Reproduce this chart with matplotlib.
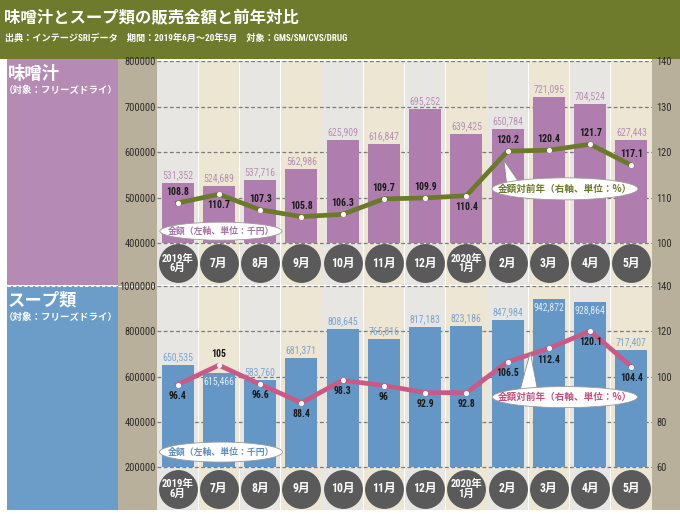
import matplotlib
matplotlib.use("Agg")
import matplotlib.pyplot as plt
from matplotlib import font_manager
from matplotlib.patches import Rectangle, Ellipse, Polygon
from matplotlib.lines import Line2D

# ---------------- data ----------------
months = ["2019年\n6月", "7月", "8月", "9月", "10月", "11月", "12月",
          "2020年\n1月", "2月", "3月", "4月", "5月"]
miso_sales = [531352, 524689, 537716, 562986, 625909, 616847, 695252,
              639425, 650784, 721095, 704524, 627443]
miso_yoy = [108.8, 110.7, 107.3, 105.8, 106.3, 109.7, 109.9, 110.4,
            120.2, 120.4, 121.7, 117.1]
soup_sales = [650535, 615466, 583760, 681371, 808645, 765816, 817183,
              823186, 847984, 942872, 928864, 717407]
soup_yoy = [96.4, 105, 96.6, 88.4, 98.3, 96, 92.9, 92.8, 106.5, 112.4,
            120.1, 104.4]
miso_left_ticks = [400000, 500000, 600000, 700000, 800000]
miso_right_ticks = [100, 110, 120, 130, 140]
soup_left_ticks = [200000, 400000, 600000, 800000, 1000000]
soup_right_ticks = [60, 80, 100, 120, 140]

# label placement (style)
miso_line_side = [1, -1, 1, 1, 1, 1, 1, -1, 1, 1, 1, 1]
soup_line_side = [-1, 1, -1, -1, -1, -1, -1, -1, -1, -1, -1, -1]
miso_bar_inside = [False] * 12
soup_bar_inside = [False, True, False, False, False, False, False,
                   False, False, True, True, False]

title = "味噌汁とスープ類の販売金額と前年対比"
subtitle = "出典：インテージSRIデータ　期間：2019年6月～20年5月　対象：GMS/SM/CVS/DRUG"

# ---------------- fonts ----------------
avail = {f.name for f in font_manager.fontManager.ttflist}
narrow = next((f for f in ["Liberation Sans Narrow", "Roboto Condensed",
                           "DejaVu Sans Condensed", "Liberation Sans"]
               if f in avail), "DejaVu Sans")
CJK = "Noto Sans CJK JP"
FAM = [narrow, CJK, "DejaVu Sans"]
plt.rcParams['font.family'] = FAM

W, H = 680, 514
fig = plt.figure(figsize=(W / 100, H / 100), dpi=100)
fig.patch.set_facecolor("white")


def rect_px(x0, y0, x1, y1, color, z=-5):
    fig.add_artist(Rectangle((x0 / W, 1 - y1 / H), (x1 - x0) / W, (y1 - y0) / H,
                             transform=fig.transFigure, facecolor=color,
                             edgecolor='none', zorder=z))


OLIVE = "#6E7B2D"
TAN = "#B8B09B"
rect_px(0, 0, W, 59, OLIVE)
rect_px(7, 59, 118, 285, "#B58AB5")
rect_px(7, 286, 118, 510, "#6C9DC9")
rect_px(118, 59, 157, 510, TAN)
rect_px(652, 59, W, 510, TAN)
fig.add_artist(Line2D([7 / W, 157 / W], [1 - 285.5 / H] * 2, transform=fig.transFigure,
                      color="white", lw=0.8, ls=(0, (3, 2)), zorder=-4))

fig.text(4 / W, 1 - 18 / H, title, color="white", fontsize=11.8, fontweight="bold",
         va="center", ha="left", family=[CJK])
fig.text(5 / W, 1 - 38 / H, subtitle, color="white", fontsize=6.6, fontweight="bold",
         va="center", ha="left", family=FAM)

fig.text(8 / W, 1 - 74 / H, "味噌汁", color="white", fontsize=12.5, fontweight="bold",
         va="center", ha="left", family=[CJK])
fig.text(4 / W, 1 - 90 / H, "（対象：フリーズドライ）", color="white", fontsize=6.8,
         fontweight="bold", va="center", ha="left", family=[CJK])
fig.text(8 / W, 1 - 300 / H, "スープ類", color="white", fontsize=12.5, fontweight="bold",
         va="center", ha="left", family=[CJK])
fig.text(4 / W, 1 - 317 / H, "（対象：フリーズドライ）", color="white", fontsize=6.8,
         fontweight="bold", va="center", ha="left", family=[CJK])

x = list(range(12))
STRIPES = ["#E8E6E2", "#ECE6D3"]


def panel(rect, sales, yoy, base, rbase, ylim_lo, lticks, rticks, bar_c, lab_c,
          inside_c, line_c, line_side, bar_inside, circ_y, ell_left, ell_right,
          leader, ell_txt_c, ell_right_txt_c):
    ax = fig.add_axes(rect)
    ax.set_facecolor("white")
    for i in x:
        ax.axvspan(i - 0.49, i + 0.49, color=STRIPES[i % 2], lw=0, zorder=0)
    for t in lticks:
        ax.axhline(t, color="#7a7a7a", lw=0.9, ls=(0, (3, 2)), zorder=1)
    ax.bar(x, [v - base for v in sales], bottom=base, width=0.78, color=bar_c,
           zorder=2)
    for i, v in enumerate(sales):
        if bar_inside[i]:
            ax.annotate(f"{v:,}", (i, v), xytext=(0, -2), textcoords="offset points",
                        ha="center", va="top", fontsize=7, color=inside_c, zorder=3)
        else:
            ax.annotate(f"{v:,}", (i, v), xytext=(0, 2), textcoords="offset points",
                        ha="center", va="bottom", fontsize=7, color=lab_c, zorder=3)
    ax.plot(x, [circ_y] * 12, ls="none", marker="o", ms=28, mfc="#5A5A5A",
            mec="none", transform=ax.get_xaxis_transform(), zorder=3, clip_on=False)
    for i, m in enumerate(months):
        two = "\n" in m
        ax.text(i, circ_y, m, transform=ax.get_xaxis_transform(), ha="center",
                va="center", color="white", fontweight="bold",
                fontsize=7.6 if two else 8.5, linespacing=0.88, zorder=4, family=FAM)
    ax.set_xlim(-0.5, 11.5)
    ax.set_ylim(ylim_lo, lticks[-1])
    ax.set_xticks([])
    ax.set_yticks(lticks)
    ax.set_yticklabels([str(t) for t in lticks])
    ax.tick_params(axis="y", length=0, pad=1, labelsize=7.5, labelcolor="#2a2a2a")
    for s in ax.spines.values():
        s.set_visible(False)

    ax2 = ax.twinx()
    rlo = rbase + (ylim_lo - base) / 10000
    ax2.set_ylim(rlo, rticks[-1])
    ax2.set_yticks(rticks)
    ax2.set_yticklabels([str(t) for t in rticks])
    ax2.tick_params(axis="y", length=0, pad=3, labelsize=7.5, labelcolor="#2a2a2a")
    for s in ax2.spines.values():
        s.set_visible(False)
    ax2.plot(x, yoy, color=line_c, lw=3.4, zorder=4, solid_joinstyle="round",
             marker="o", ms=2.6, mfc="white", mec="white")
    for i, v in enumerate(yoy):
        ax2.annotate(f"{v:g}", (i, v), xytext=(0, 8 * line_side[i]),
                     textcoords="offset points", ha="center", va="center",
                     fontsize=7, fontweight="bold", color="#1a1a1a", zorder=5)
    ax2.add_patch(Polygon(leader, closed=True, facecolor="white", edgecolor="#8a8a8a",
                          lw=0.6, zorder=5))
    for (cx, cy, w, h), txt, col, fs in [
            (ell_left, "金額（左軸、単位：千円）", ell_txt_c, 6.4),
            (ell_right, "金額対前年（右軸、単位：%）", ell_right_txt_c, 6.9)]:
        ax2.add_patch(Ellipse((cx, cy), w, h, facecolor="white", edgecolor="#9a9a9a",
                              lw=0.6, zorder=6))
        ax2.text(cx, cy, txt, ha="center", va="center", fontsize=fs, color=col,
                 fontweight="bold", zorder=7, family=[CJK])
    return ax, ax2


panel([157 / W, 1 - 285 / H, 495 / W, 224 / H], miso_sales, miso_yoy, 400000, 100,
      307700, miso_left_ticks, miso_right_ticks, "#AF7EAF", "#B48FB3", "#F0E6F0",
      "#6B7A2A", miso_line_side, miso_bar_inside, 0.098,
      (1.05, 102.6, 2.96, 3.96), (9.39, 111.9, 3.54, 4.84),
      [(7.91, 118.2), (7.98, 112.6), (8.28, 113.3)], "#A873A8", "#6B7A2A")

panel([157 / W, 1 - 510 / H, 495 / W, 224 / H], soup_sales, soup_yoy, 200000, 60,
      10000, soup_left_ticks, soup_right_ticks, "#6497C6", "#7BA5CF", "#E3ECF5",
      "#C95A85", soup_line_side, soup_bar_inside, 0.094,
      (1.05, 66.6, 2.98, 8.84), (9.39, 90.9, 3.52, 9.3),
      [(8.55, 110.6), (8.30, 94.0), (8.72, 94.6)], "#5E8FC0", "#C24F7E")

fig.savefig("out.png", dpi=100)
